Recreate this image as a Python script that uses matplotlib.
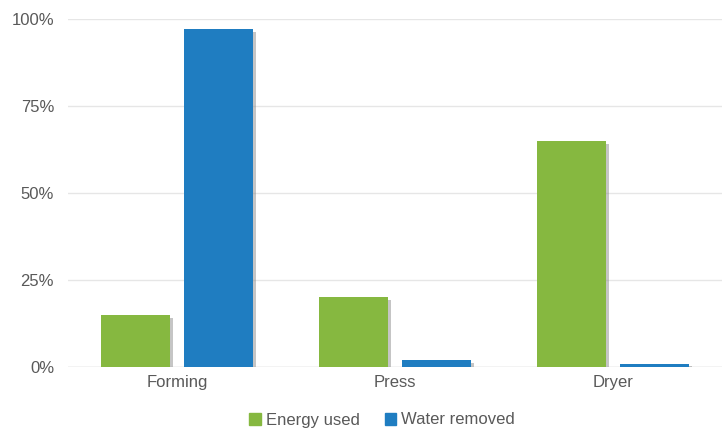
import numpy as np
import matplotlib
matplotlib.use("Agg")
import matplotlib.pyplot as plt
import matplotlib.patheffects as pe
from matplotlib.patches import Patch

#--- Data ---#
categories = ["Forming", "Press", "Dryer"]
energy_used = [15, 20, 65]       # percent
water_removed = [97, 2, 1]       # percent
yticks = [0, 25, 50, 75, 100]

GREEN = "#86b840"
BLUE = "#1f7dc1"
TEXT = "#595959"

plt.rcParams["font.family"] = ["Liberation Sans", "DejaVu Sans"]

fig = plt.figure(figsize=(7.22, 4.30), dpi=100)
ax = fig.add_axes([68 / 722, 1 - 367 / 430, 1 - 68 / 722, (367 - 19) / 430])

x = np.arange(len(categories))
w = 0.32
off = 0.19
shadow = [pe.SimplePatchShadow(offset=(2, -2), shadow_rgbFace="#8c8c8c", alpha=0.5), pe.Normal()]
b1 = ax.bar(x - off, energy_used, w, color=GREEN, zorder=3)
b2 = ax.bar(x + off, water_removed, w, color=BLUE, zorder=3)
for b in list(b1) + list(b2):
    b.set_path_effects(shadow)

ax.set_xlim(-0.5, len(categories) - 0.5)
ax.set_ylim(0, 100)
ax.set_yticks(yticks)
ax.set_yticklabels([f"{v}%" for v in yticks])
ax.set_xticks(x)
ax.set_xticklabels(categories)
ax.tick_params(axis="both", length=0, labelsize=12, labelcolor=TEXT)
ax.tick_params(axis="y", pad=10)
ax.tick_params(axis="x", pad=6)
ax.grid(axis="y", color="#e6e6e6", linewidth=1, zorder=0)
for s in ax.spines.values():
    s.set_visible(False)
ax.axhline(0, color="#d9d9d9", linewidth=1, zorder=2)

handles = [Patch(color=GREEN, label="Energy used"), Patch(color=BLUE, label="Water removed")]
fig.legend(handles=handles, loc="center", bbox_to_anchor=(382 / 722, 1 - 420 / 430), ncol=2,
           frameon=False, fontsize=12, labelcolor=TEXT, handlelength=0.7, handleheight=0.7,
           handletextpad=0.3, columnspacing=1.5)

fig.savefig("out.png", dpi=100)
